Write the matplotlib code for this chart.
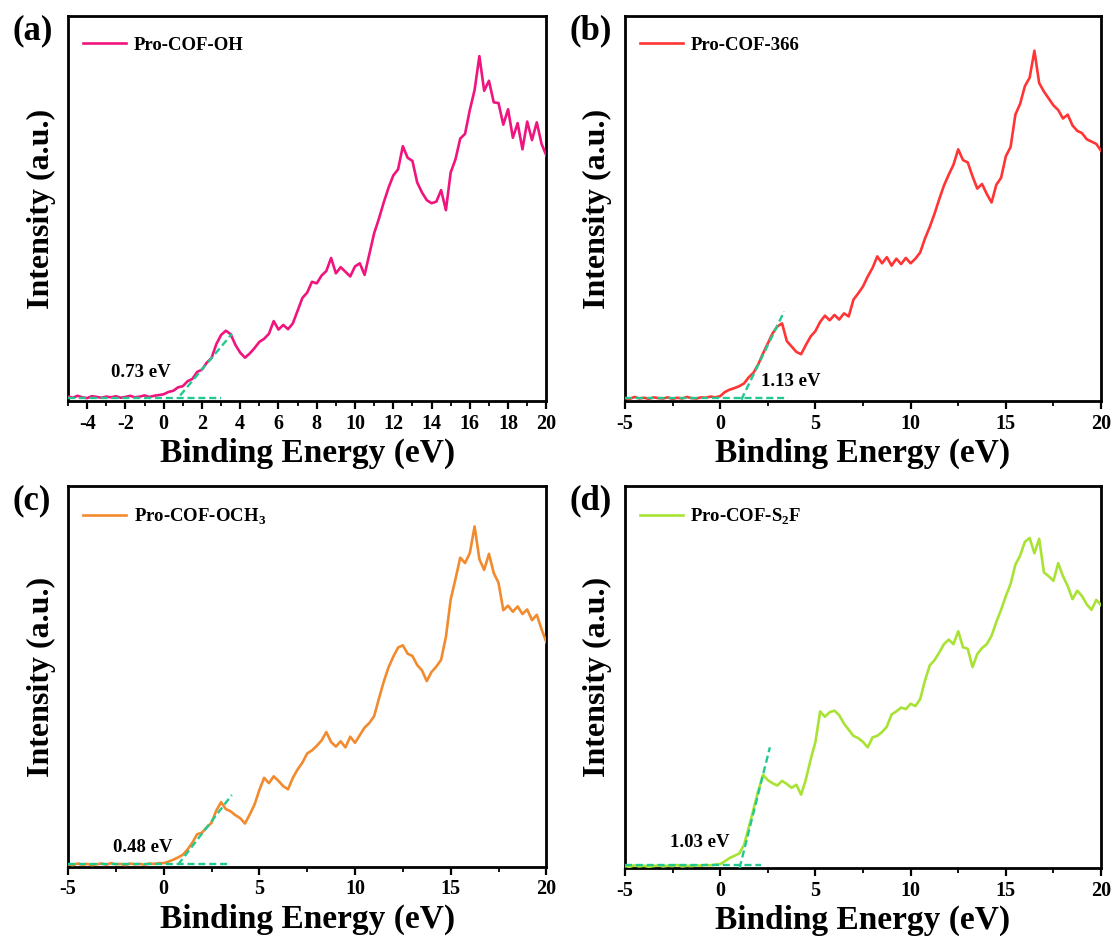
import numpy as np
import matplotlib
matplotlib.use("Agg")
import matplotlib.pyplot as plt
from matplotlib.ticker import MultipleLocator

plt.rcParams['font.family'] = ['Liberation Serif', 'DejaVu Serif']
plt.rcParams['font.weight'] = 'bold'
plt.rcParams['mathtext.fontset'] = 'custom'
plt.rcParams['mathtext.rm'] = 'Liberation Serif:bold'
plt.rcParams['mathtext.bf'] = 'Liberation Serif:bold'
plt.rcParams['axes.unicode_minus'] = False

# binding energy grid, -5 .. 20 eV, 0.25 eV step
energy = np.arange(-5, 20.001, 0.25)

# intensities (0-100 = bottom..top of the axes)
base_a = [1.2, 0.9, 1.4, 1.0, 0.8, 1.3, 1.1, 0.9, 1.2, 1.0,
          1.3, 0.9, 1.1, 1.4, 1.0, 1.2, 1.5, 1.1, 1.4, 1.6]
int_a = base_a + [
    1.8, 2.4, 2.7, 3.6, 3.9, 5.2, 5.8, 7.6, 8.2, 10.0,
    11.2, 14.8, 17.2, 18.3, 17.4, 14.6, 12.6, 11.3, 12.4, 13.8,
    15.4, 16.2, 17.5, 20.8, 18.6, 19.8, 18.7, 20.2, 23.5, 26.8,
    28.2, 31.0, 30.6, 32.6, 33.8, 37.2, 33.2, 34.8, 33.6, 32.4,
    35.0, 35.8, 32.8, 38.2, 43.6, 47.4, 51.6, 55.4, 58.6, 60.2,
    66.2, 63.2, 62.4, 56.8, 54.2, 52.2, 51.4, 51.8, 54.8, 49.6,
    59.4, 62.8, 68.2, 69.4, 75.6, 80.8, 89.6, 80.6, 83.2, 77.6,
    77.4, 71.8, 75.8, 68.4, 72.2, 65.4, 72.6, 67.8, 72.4, 66.8,
    63.8]

base_b = [0.8, 0.6, 1.1, 0.7, 0.9, 0.6, 1.0, 0.8, 0.7, 1.0,
          0.6, 0.9, 0.7, 1.1, 0.8, 0.7, 1.0, 0.9, 1.2, 1.0]
int_b = base_b + [
    1.3, 2.4, 3.0, 3.4, 3.9, 4.6, 6.2, 7.4, 9.6, 12.4,
    15.0, 17.6, 19.4, 20.2, 15.6, 14.2, 12.8, 12.2, 14.6, 16.8,
    18.2, 20.6, 22.2, 21.0, 22.4, 21.2, 22.8, 22.0, 26.4, 28.0,
    29.8, 32.4, 34.6, 37.6, 35.8, 37.4, 35.2, 37.0, 35.6, 37.2,
    35.8, 37.0, 38.6, 42.2, 45.2, 48.6, 52.4, 56.0, 58.8, 61.4,
    65.4, 62.6, 62.0, 58.4, 55.2, 56.4, 53.8, 51.6, 56.2, 58.0,
    63.6, 66.0, 74.4, 77.2, 81.8, 84.0, 91.0, 82.6, 80.4, 78.6,
    76.8, 75.6, 73.4, 74.4, 71.6, 70.2, 69.6, 68.0, 67.4, 66.8,
    65.0]

base_c = [0.7, 0.5, 0.9, 0.6, 0.8, 0.5, 0.7, 0.9, 0.6, 1.0,
          0.7, 0.8, 0.5, 0.9, 0.7, 0.8, 0.6, 0.9, 0.8, 1.0]
int_c = base_c + [
    1.0, 1.4, 1.9, 2.5, 3.2, 4.6, 6.4, 8.6, 9.0, 10.4,
    11.6, 14.8, 17.0, 15.2, 14.6, 13.6, 12.8, 11.4, 13.8, 16.4,
    20.2, 23.4, 22.0, 23.8, 22.6, 21.2, 20.4, 23.4, 25.6, 27.4,
    29.8, 30.6, 31.8, 33.2, 35.4, 32.8, 31.6, 33.0, 31.4, 34.2,
    32.6, 34.6, 36.6, 37.8, 39.6, 44.2, 48.6, 52.4, 55.2, 57.6,
    58.2, 56.0, 55.4, 53.0, 51.6, 48.8, 51.2, 52.6, 54.4, 60.4,
    70.2, 75.6, 81.2, 79.8, 82.4, 89.4, 80.8, 78.0, 82.2, 77.2,
    74.6, 67.4, 68.6, 67.0, 68.4, 66.4, 67.6, 64.8, 66.2, 62.4,
    59.0]

base_d = [0.5, 0.3, 0.7, 0.4, 0.6, 0.3, 0.5, 0.7, 0.4, 0.6,
          0.5, 0.8, 0.4, 0.6, 0.5, 0.7, 0.6, 0.8, 0.7, 0.9]
int_d = base_d + [
    1.0, 1.8, 2.6, 3.2, 3.8, 6.0, 10.6, 15.4, 20.2, 24.4,
    23.0, 22.2, 21.6, 22.8, 22.0, 21.0, 21.8, 19.2, 23.2, 28.4,
    33.0, 41.0, 39.6, 40.8, 41.2, 40.0, 37.8, 36.2, 34.6, 34.0,
    33.0, 31.6, 34.2, 34.6, 35.6, 37.0, 40.2, 41.0, 42.0, 41.6,
    43.0, 42.4, 44.2, 49.0, 53.0, 54.4, 56.4, 58.6, 59.8, 58.6,
    62.0, 57.8, 57.4, 52.6, 56.0, 57.6, 58.6, 60.8, 64.4, 67.6,
    71.2, 74.4, 79.4, 81.8, 85.4, 86.4, 82.4, 86.2, 77.4, 76.4,
    75.2, 79.8, 76.4, 73.8, 70.4, 72.6, 71.2, 69.0, 67.6, 70.2,
    68.8]

names = ['Pro-COF-OH', 'Pro-COF-366', r'Pro-COF-OCH$_\mathbf{3}$', r'Pro-COF-S$_\mathbf{2}$F']
colors = ['#F0147F', '#FF3535', '#F28A2E', '#A8E334']
letters = ['(a)', '(b)', '(c)', '(d)']
gaps = ['0.73 eV', '1.13 eV', '0.48 eV', '1.03 eV']
gap_pos = [(-1.2, 7.5), (3.7, 5.0), (-1.1, 5.2), (-1.05, 6.8)]
# tangent (x0, y0, x1, y1) and baseline end for each panel
tangents = [(0.86, 1.5, 3.57, 17.5), (1.11, 0.4, 3.36, 23.3),
            (0.75, 0.6, 3.56, 18.9), (1.02, 0.0, 2.61, 31.6)]
base_end = [3.0, 3.55, 3.37, 2.14]
series = [int_a, int_b, int_c, int_d]

fig = plt.figure(figsize=(11.15, 9.44), dpi=100)
boxes = [(0.061, 0.575, 0.429, 0.408), (0.5605, 0.575, 0.427, 0.408),
         (0.061, 0.0816, 0.429, 0.4035), (0.5605, 0.0805, 0.427, 0.4046)]
tang_col = '#22C98E'

for i in range(4):
    ax = fig.add_axes(boxes[i])
    ax.plot(energy, series[i], color=colors[i], lw=1.9, label=names[i], zorder=3)
    t = tangents[i]
    ax.plot([t[0], t[2]], [t[1], t[3]], ls=(0, (3, 1.6)), color=tang_col, lw=1.7, zorder=4)
    ax.plot([-5, base_end[i]], [0.9, 0.9], ls=(0, (3, 1.6)), color=tang_col, lw=1.7, zorder=4)
    ax.set_xlim(-5, 20)
    ax.set_ylim(0, 100)
    ax.set_yticks([])
    if i == 0:
        ax.xaxis.set_major_locator(MultipleLocator(2))
        ax.xaxis.set_minor_locator(MultipleLocator(1))
        ax.set_xticks(np.arange(-4, 21, 2))
    else:
        ax.xaxis.set_major_locator(MultipleLocator(5))
        ax.xaxis.set_minor_locator(MultipleLocator(2.5))
    ax.tick_params(axis='x', which='major', direction='out', length=6, width=1.6,
                   labelsize=14.5, pad=3)
    ax.tick_params(axis='x', which='minor', direction='out', length=3.5, width=1.3)
    for s in ax.spines.values():
        s.set_linewidth(2)
    for lab in ax.get_xticklabels():
        lab.set_fontweight('bold')
    ax.set_xlabel('Binding Energy (eV)', fontsize=24, fontweight='bold', labelpad=3)
    ax.set_ylabel('Intensity (a.u.)', fontsize=23, fontweight='bold', labelpad=9)
    ax.legend(loc='upper left', bbox_to_anchor=(-0.012, 1.0), frameon=False,
              handlelength=2.3, handletextpad=0.4, borderaxespad=0.7,
              prop={'weight': 'bold', 'size': 13.5})
    ax.text(gap_pos[i][0], gap_pos[i][1], gaps[i], fontsize=13.5, fontweight='bold',
            ha='center', va='center')
    bx = boxes[i]
    fig.text(bx[0] - 0.05, bx[1] + bx[3] - 0.016, letters[i], fontsize=25,
             fontweight='bold', ha='left', va='center')

fig.savefig('out.png', dpi=100)
